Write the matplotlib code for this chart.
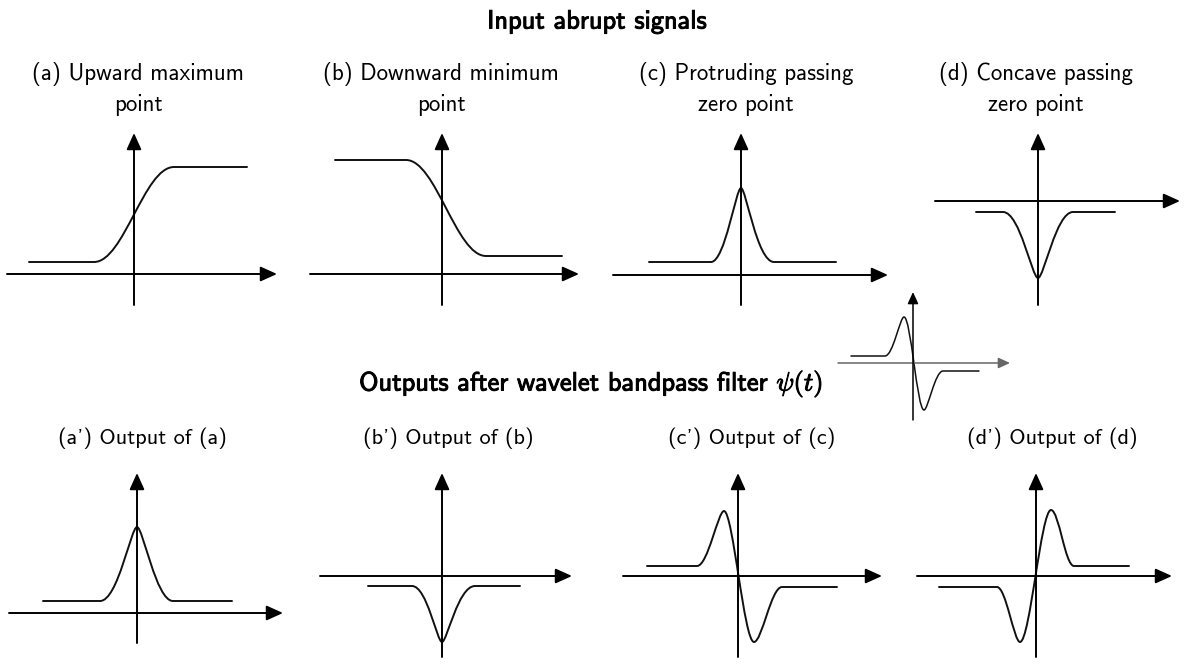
import matplotlib
matplotlib.use("Agg")
import matplotlib.pyplot as plt
from matplotlib.path import Path
from matplotlib.patches import PathPatch
import matplotlib.patheffects as pe

plt.rcParams['mathtext.fontset'] = 'cm'
FONT = 'cmss10'

W, H = 1199, 672

# signal shapes, local units (origin = axis crossing, y up)
# each curve: start point followed by cubic bezier triples (ctrl1, ctrl2, end)
sig_a = [(-105, 12), (-80, 12), (-60, 12), (-40, 12), (-10, 12), (10, 107), (40, 107),
         (60, 107), (90, 107), (113, 107)]
sig_b = [(-107, 114), (-80, 114), (-60, 114), (-36, 114), (-6, 114), (14, 18), (44, 18),
         (70, 18), (100, 18), (120, 18)]
sig_c = [(-92, 13), (-70, 13), (-50, 13), (-30, 13), (-16, 13), (-5, 87), (0, 87),
         (5, 87), (16, 13), (33, 13), (55, 13), (75, 13), (95, 13)]
sig_d = [(-62, -11), (-52, -11), (-44, -11), (-35, -11), (-18, -11), (-6, -77), (0, -77),
         (6, -77), (18, -11), (35, -11), (50, -11), (65, -11), (77, -11)]
psi = [(-62, 7), (-50, 7), (-40, 7), (-28, 7), (-20, 7), (-13, 46), (-9, 46),
       (-2, 46), (4, -47), (11, -47), (15, -47), (22, -8), (30, -8),
       (42, -8), (54, -8), (66, -8)]
out_a = [(-94, 12), (-75, 12), (-55, 12), (-37, 12), (-19, 12), (-6, 86), (0, 86),
         (6, 86), (19, 12), (36, 12), (55, 12), (75, 12), (95, 12)]
out_b = [(-74, -10), (-60, -10), (-45, -10), (-30, -10), (-15, -10), (-5, -66), (0, -66),
         (5, -66), (16, -10), (33, -10), (48, -10), (63, -10), (78, -10)]
out_c = [(-91, 10), (-75, 10), (-58, 10), (-41, 10), (-30, 10), (-20, 65), (-14, 65),
         (-5, 65), (6, -66), (16, -66), (24, -66), (33, -11), (44, -11),
         (62, -11), (80, -11), (99, -11)]
out_d = [(-97, -11), (-78, -11), (-58, -11), (-39, -11), (-30, -11), (-22, -66), (-16, -66),
         (-6, -66), (5, 66), (15, 66), (23, 66), (29, 10), (38, 10),
         (55, 10), (75, 10), (93, 10)]

titles_in = ["(a) Upward maximum\npoint", "(b) Downward minimum\npoint",
             "(c) Protruding passing\nzero point", "(d) Concave passing\nzero point"]
titles_out = ["(a') Output of (a)", "(b') Output of (b)", "(c') Output of (c)", "(d') Output of (d)"]

fig = plt.figure(figsize=(W / 100, H / 100), dpi=100)


def panel(curve, origin, xr, yr, head=1.0, xcol='black', lw=1.4):
    ox, oy = origin
    x0, x1 = xr
    y0, y1 = yr
    ax = fig.add_axes([(ox + x0) / W, (H - (oy - y0)) / H, (x1 - x0) / W, (y1 - y0) / H])
    ax.set_xlim(x0, x1)
    ax.set_ylim(y0, y1)
    ax.axis('off')
    style = '-|>,head_length=%.2f,head_width=%.2f' % (1.0 * head, 0.45 * head)
    ax.annotate('', xy=(x1, 0), xytext=(x0, 0), annotation_clip=False,
                arrowprops=dict(arrowstyle=style, color=xcol, lw=lw, shrinkA=0, shrinkB=0))
    ax.annotate('', xy=(0, y1), xytext=(0, y0), annotation_clip=False,
                arrowprops=dict(arrowstyle=style, color='black', lw=lw, shrinkA=0, shrinkB=0))
    codes = [Path.MOVETO] + [Path.CURVE4] * (len(curve) - 1)
    ax.add_patch(PathPatch(Path(curve, codes), fill=False, ec='#111111', lw=lw,
                           capstyle='round', joinstyle='round', clip_on=False))
    return ax


panel(sig_a, (134, 274), (-127, 143), (-31, 141))
panel(sig_b, (442, 274), (-132, 137), (-31, 141))
panel(sig_c, (741, 275), (-128, 147), (-30, 142))
panel(sig_d, (1038, 201), (-103, 142), (-104, 68))
panel(psi, (913, 363), (-75, 97), (-57, 71), head=0.7, xcol='#666666', lw=1.1)
panel(out_a, (137, 613), (-128, 146), (-30, 140))
panel(out_b, (442, 576), (-122, 130), (-81, 103))
panel(out_c, (738, 576), (-115, 144), (-81, 103))
panel(out_d, (1036, 576), (-119, 136), (-81, 103))

bold = [pe.withStroke(linewidth=0.7, foreground='black')]
fig.text(597 / W, 1 - 22 / H, "Input abrupt signals", ha='center', va='center',
         fontsize=19, family=FONT, path_effects=bold)
fig.text(591 / W, 1 - 384 / H, r"Outputs after wavelet bandpass filter $\psi(t)$",
         ha='center', va='center', fontsize=19, family=FONT, path_effects=bold)

for t, cx in zip(titles_in, [138, 441, 746, 1036]):
    fig.text(cx / W, 1 - 89 / H, t, ha='center', va='center', multialignment='center',
             fontsize=16.5, family=FONT, linespacing=1.42)
for t, cx in zip(titles_out, [142, 448, 752, 1052]):
    fig.text(cx / W, 1 - 438 / H, t, ha='center', va='center', fontsize=16, family=FONT)

fig.savefig("out.png", dpi=100, facecolor='white')
